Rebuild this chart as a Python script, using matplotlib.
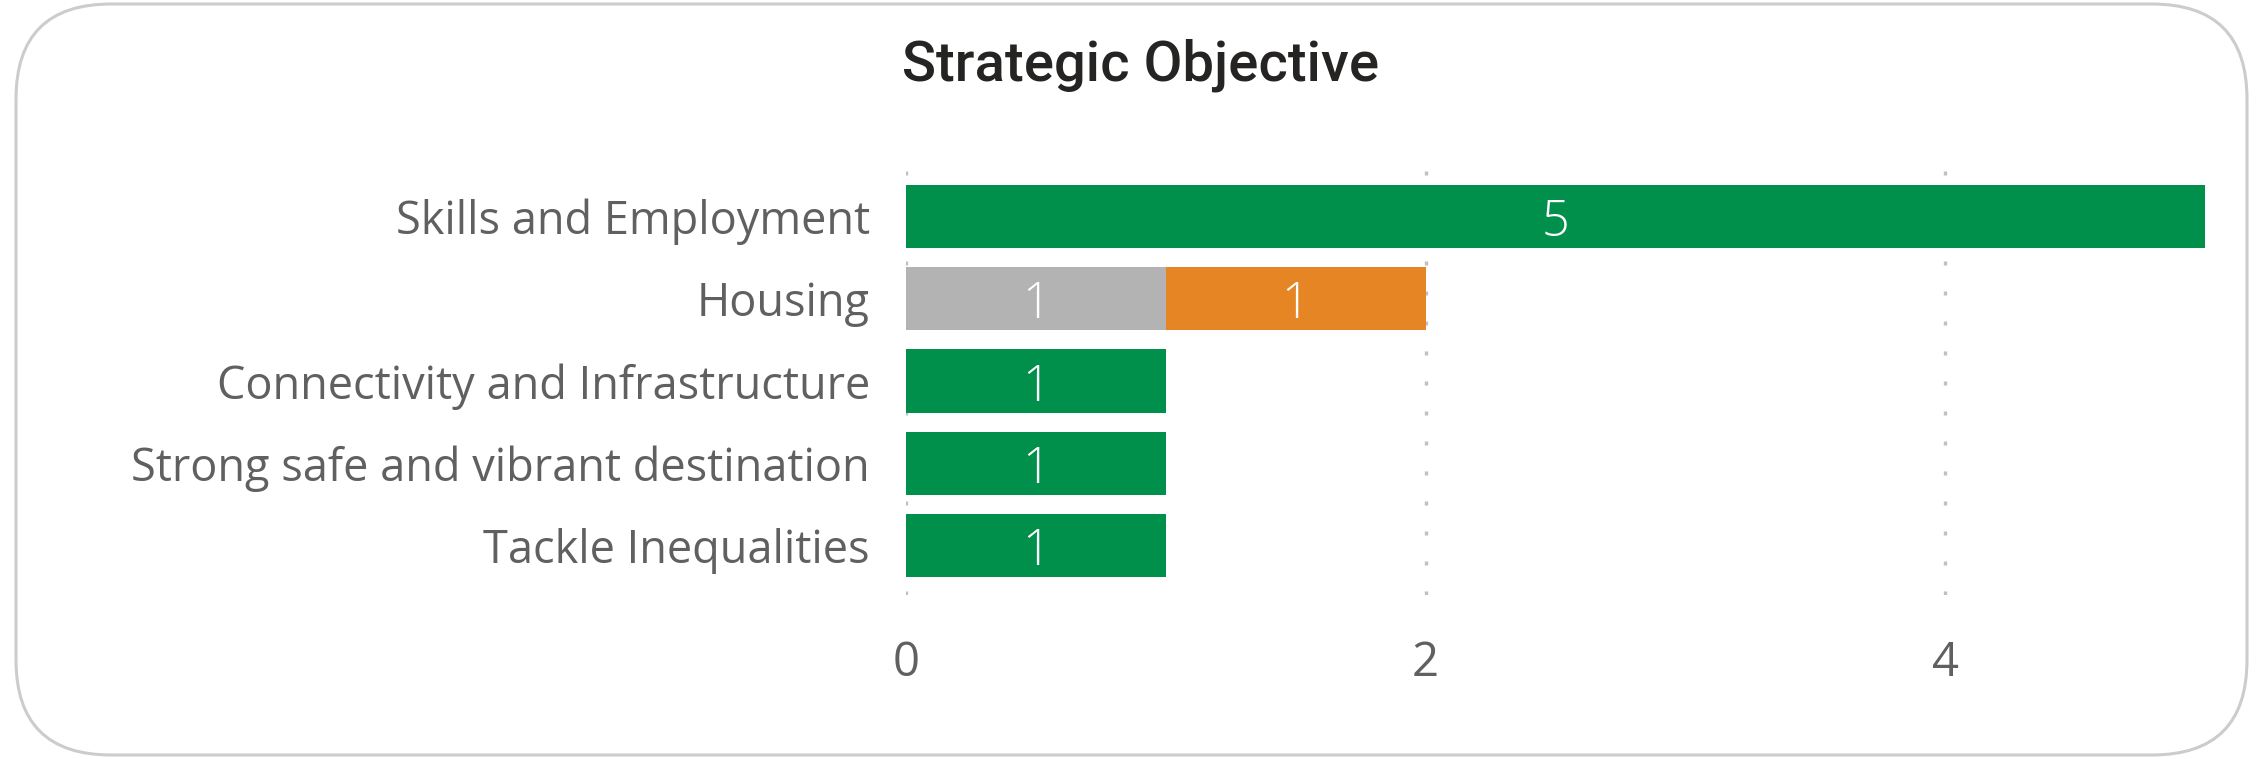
import matplotlib.pyplot as plt
from matplotlib.patches import FancyBboxPatch
import numpy as np

categories = ["Skills and Employment", "Housing", "Connectivity and Infrastructure",
              "Strong safe and vibrant destination", "Tackle Inequalities"]
green_vals = [5, 0, 1, 1, 1]
grey_vals = [0, 1, 0, 0, 0]
orange_vals = [0, 1, 0, 0, 0]
x_ticks = [0, 2, 4]

W, H = 2263, 759
fig = plt.figure(figsize=(W / 100, H / 100), dpi=100)

# rounded frame
frame = FancyBboxPatch((16 / W, 4 / H), (W - 32) / W, (H - 8) / H,
                       boxstyle="round,pad=0,rounding_size=0.042",
                       transform=fig.transFigure, facecolor="white",
                       edgecolor="#cccccc", linewidth=2.2, mutation_aspect=W / H,
                       zorder=-5)
fig.patches.append(frame)

ax = fig.add_axes([906 / W, 1 - 595 / H, (2205 - 906) / W, (595 - 163) / H])
ax.set_facecolor("none")

y = np.arange(len(categories))
h = 0.77
ax.barh(y, green_vals, height=h, color="#00904c")
ax.barh(y, grey_vals, height=h, color="#b3b3b3")
ax.barh(y, orange_vals, height=h, left=grey_vals, color="#e68524")

font = "Open Sans"
for i in range(len(categories)):
    left = 0
    for vals in (green_vals, grey_vals, orange_vals):
        v = vals[i]
        if v > 0:
            ax.text(left + v / 2, i + 0.08, str(v), ha="center", va="center",
                    color="white", fontsize=35, family=font, fontweight="light")
            left += v

ax.set_ylim(len(categories) - 0.4, -0.65)
ax.set_xlim(0, 5)
ax.set_yticks(y)
ax.set_yticklabels(categories, fontsize=32.5, color="#606060", family=font)
ax.set_xticks(x_ticks)
ax.set_xticklabels([str(t) for t in x_ticks], fontsize=34, color="#606060", family=font)
ax.tick_params(length=0, axis="y", pad=26)
ax.tick_params(length=0, axis="x", pad=32)
ax.grid(axis="x", color="#c0c0c0", linestyle=(0, (1.2, 7.8)), linewidth=2.4)
ax.set_axisbelow(True)
for s in ax.spines.values():
    s.set_visible(False)

fig.text(1141 / W, 1 - 65 / H, "Strategic Objective", ha="center", va="center",
         fontsize=40.5, color="#252423", family="Roboto", fontweight="medium")

fig.savefig("out.png", dpi=100)
